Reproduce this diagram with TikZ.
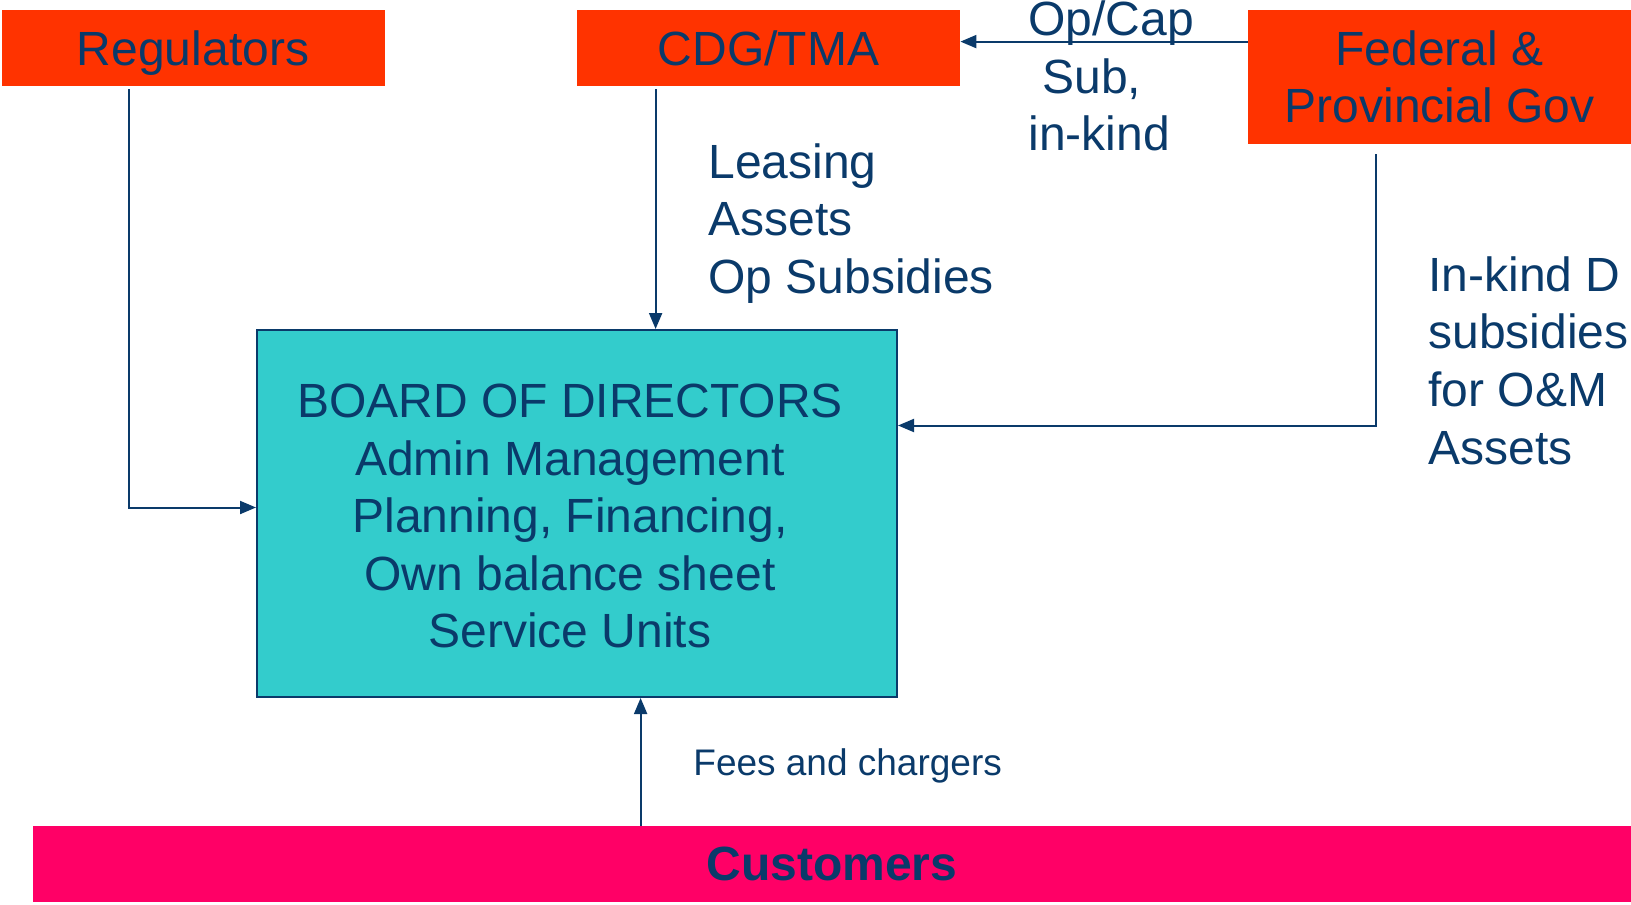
\documentclass[tikz,border=0pt]{standalone}
\usepackage{fontspec}
\setmainfont{Liberation Sans}
\usetikzlibrary{arrows.meta,calc}
\definecolor{govred}{HTML}{FF3300}
\definecolor{boardteal}{HTML}{33CCCC}
\definecolor{custpink}{HTML}{FF0066}
\definecolor{inkblue}{HTML}{0A3A6A}
\begin{document}
\begin{tikzpicture}
[x=0.5pt,y=-0.5pt,
  bigtext/.style={text=inkblue,font=\fontsize{24}{28.8}\selectfont},
  orgbox/.style={bigtext,fill=govred,inner sep=0pt,align=center,minimum width=191.5pt},
  boarddecorate/.style={bigtext,fill=boardteal,draw=inkblue,line width=1pt,inner sep=0pt,
    minimum width=320pt,minimum height=183.5pt},
  labeldecorate/.style={bigtext,inner sep=0pt,align=left,anchor=west},
  linedecorate/.style={draw=inkblue,line width=1pt,-{Triangle[length=8pt,width=6.5pt]}}]
\useasboundingbox (0,0) rectangle (1631,904);
%% nodes or boxes
\node (reg) at (193,48) [orgbox,minimum height=38pt,text depth=0pt] {Regulators};
\node (cdg) at (768.5,48) [orgbox,minimum height=38pt] {CDG/TMA};
\node (fed) at (1439.5,77) [orgbox,minimum height=67pt] {Federal \&\\Provincial Gov};
\node (board) at (577,513.5) [boarddecorate]
  {\hspace*{-7pt}\raisebox{-3.8pt}[\height][\depth]{\begin{tabular}{@{}c@{}}BOARD OF DIRECTORS\\
   Admin Management\\Planning, Financing,\\Own balance sheet\\Service Units\end{tabular}}};
\node (cust) at (832,864) [bigtext,fill=custpink,inner sep=0pt,minimum width=799pt,minimum height=38pt,
  font=\fontsize{24}{28.8}\selectfont\bfseries] {Customers};
%% labels
\node (subtext) at (1028,76) [labeldecorate] {Op/Cap\\\hspace{7pt}Sub,\\in-kind};
\node (leasetext) at (708,223.5) [labeldecorate] {Leasing\\Assets\\Op Subsidies};
\node (inkindtext) at (1428,360.5) [labeldecorate] {In-kind D\\subsidies\\for O\&M\\Assets};
\node (feetext) at (693,766) [labeldecorate,font=\fontsize{18.5}{22}\selectfont] {Fees and chargers};
%% edges or lines
\draw[linedecorate] ($(reg.south west)+(128,3)$) |- ([yshift=3pt]board.west);
\draw[linedecorate] ($(cdg.south west)+(79,3)$) coordinate (c1) -- (c1 |- board.north);
\draw[linedecorate] ([yshift=-16pt]fed.north west) -- ([yshift=-16pt]cdg.north east);
\draw[linedecorate] ($(fed.south west)+(128,10)$) |- ([yshift=44pt]board.east);
\draw[linedecorate] ($(cust.north west)+(608,0)$) coordinate (c2) -- (c2 |- board.south);
\end{tikzpicture}
\end{document}
